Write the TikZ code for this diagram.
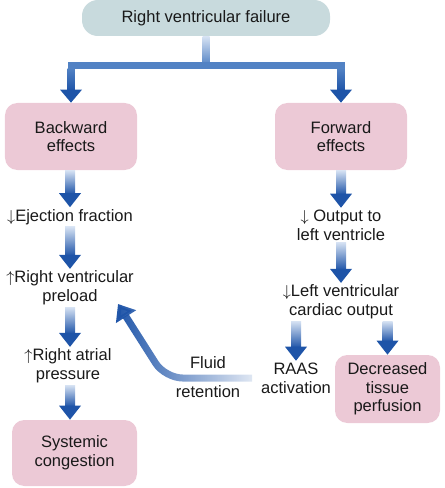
\documentclass[tikz,border=0pt]{standalone}
\usepackage{fontspec}
\setmainfont{Liberation Sans}
\usepackage{tikz}
\usetikzlibrary{arrows.meta, positioning, calc, fadings}
\definecolor{mydark}{RGB}{25,25,25}
\definecolor{boxpink}{RGB}{236,201,214}
\definecolor{boxgrey}{RGB}{200,218,221}
\definecolor{arrdark}{RGB}{30,84,168}
\definecolor{arrlight}{RGB}{214,226,243}
\definecolor{barblue}{RGB}{82,130,196}
\tikzfading[name=fluidfade, left color=transparent!0, right color=transparent!88]
\tikzset{
  topbox/.style={rectangle, fill=boxgrey, text=mydark, align=center,
    minimum width=4.96cm, minimum height=0.72cm, rounded corners=9pt,
    font=\fontsize{9.4}{10.6}\selectfont},
  effectbox/.style={rectangle, fill=boxpink, text=mydark, align=center,
    minimum width=2.64cm, minimum height=1.34cm, rounded corners=7pt,
    font=\fontsize{9.4}{10.6}\selectfont},
  lbl/.style={align=center, text=mydark, inner sep=1pt,
    font=\fontsize{9.4}{10.6}\selectfont},
  fluid/.style={line width=0.14cm, arrdark, path fading=fluidfade,
    rounded corners=0.35cm, -{Triangle[width=0.46cm, length=0.3cm]}}
}
% shaded block arrow from #1 down to #2
\newcommand{\flowarrow}[2]{%
  \shade[top color=arrlight, bottom color=arrdark]
    ($(#1)+(-0.1,0)$) rectangle ($(#2)+(0.1,0.26)$);
  \fill[arrdark] ($(#2)+(-0.22,0.28)$) -- (#2) -- ($(#2)+(0.22,0.28)$) -- cycle;
}

\begin{document}
\begin{tikzpicture}
  \useasboundingbox (0,0) rectangle (8.88,-9.76);
  % Top box and the two effect boxes
  \node[topbox] (top) at (4.12,-0.36) {Right ventricular failure};
  \node[effectbox] (back) at (1.42,-2.73) {Backward\\effects};
  \node[effectbox] (fwd) at (6.82,-2.73) {Forward\\effects};
  % Split below the top box
  \coordinate (split) at ($(top.south)+(0,-0.58)$);
  \shade[top color=arrlight, bottom color=barblue]
    ($(top.south)+(-0.07,0)$) rectangle ($(split)+(0.07,0)$);
  \fill[barblue] ($(back.north |- split)+(-0.07,0.065)$) rectangle ($(fwd.north |- split)+(0.07,-0.065)$);
  \shade[top color=barblue, bottom color=arrdark]
    ($(back.north |- split)+(-0.07,-0.06)$) rectangle ($(back.north)+(0.07,0.24)$);
  \shade[top color=barblue, bottom color=arrdark]
    ($(fwd.north |- split)+(-0.07,-0.06)$) rectangle ($(fwd.north)+(0.07,0.24)$);
  \fill[arrdark] ($(back.north)+(-0.22,0.26)$) -- (back.north) -- ($(back.north)+(0.22,0.26)$) -- cycle;
  \fill[arrdark] ($(fwd.north)+(-0.22,0.26)$) -- (fwd.north) -- ($(fwd.north)+(0.22,0.26)$) -- cycle;
  % Backward column
  \node[lbl] (ef) at (1.4,-4.34) {$\downarrow$Ejection fraction};
  \node[lbl] (rvp) at (1.4,-5.76) {$\uparrow$Right ventricular\\preload};
  \node[lbl] (rap) at (1.36,-7.32) {$\uparrow$Right atrial\\pressure};
  \node[effectbox, minimum width=2.5cm, minimum height=1.32cm] (sys) at (1.49,-9.06) {Systemic\\congestion};
  \flowarrow{back.south -| ef.north}{ef.north}
  \flowarrow{ef.south}{rvp.north}
  \flowarrow{rvp.south}{rvp.south |- rap.north}
  \flowarrow{rvp.south |- rap.south}{rvp.south |- sys.north}
  % Forward column
  \node[lbl] (out) at (6.82,-4.5) {$\downarrow$ Output to\\left ventricle};
  \node[lbl] (lvco) at (6.82,-6.04) {$\downarrow$Left ventricular\\cardiac output};
  \node[lbl] (raas) at (5.92,-7.56) {RAAS\\activation};
  \node[effectbox, minimum width=2.1cm, minimum height=1.36cm] (dec) at (7.75,-7.78) {Decreased\\tissue\\perfusion};
  \flowarrow{fwd.south}{fwd.south |- out.north}
  \flowarrow{fwd.south |- out.south}{fwd.south |- lvco.north}
  \flowarrow{lvco.south -| raas.north}{raas.north}
  \flowarrow{lvco.south -| dec.north}{dec.north}
  % Fluid retention feeds back to the preload
  \node[lbl] (fl) at (4.16,-7.26) {Fluid};
  \node[lbl] (ret) at (4.16,-7.84) {retention};
  \coordinate (fluidtip) at (2.36,-6.08);
  \draw[fluid] ($(raas.west)+(-0.14,0)$) -- (3.3,-7.56) -- (fluidtip);
\end{tikzpicture}
\end{document}
